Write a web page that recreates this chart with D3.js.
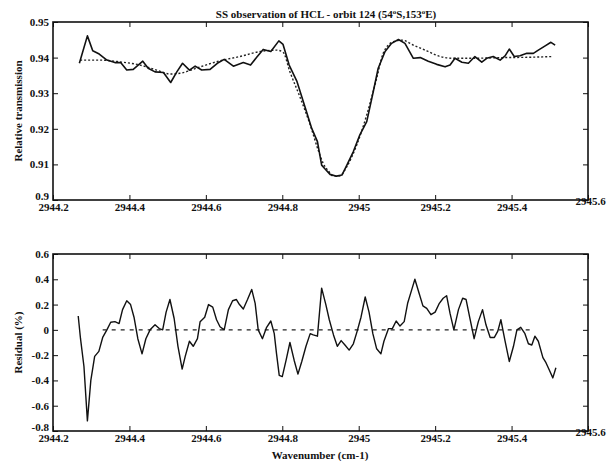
<!DOCTYPE html>
<html>
<head>
<meta charset="utf-8">
<script src="https://cdn.jsdelivr.net/npm/d3@7"></script>
<style>
  body { margin: 0; background: #fff; }
  svg text { font-family: "Liberation Serif", "DejaVu Serif", serif; fill: #111; }
</style>
</head>
<body>
<svg id="chart" width="613" height="461"></svg>
<script>
// wavenumber ticks shared by both panels
var xTicks = [2944.2, 2944.4, 2944.6, 2944.8, 2945, 2945.2, 2945.4, 2945.6];
var xTickLabels = ["2944.2", "2944.4", "2944.6", "2944.8", "2945", "2945.2", "2945.4", "2945.6"];

// top panel: measured transmission (solid)
var measWn = [2944.269, 2944.290, 2944.304, 2944.321, 2944.341, 2944.362, 2944.377, 2944.393, 2944.410, 2944.435,
  2944.449, 2944.467, 2944.489, 2944.508, 2944.524, 2944.539, 2944.557, 2944.572, 2944.589, 2944.611,
  2944.630, 2944.648, 2944.672, 2944.698, 2944.717, 2944.733, 2944.750, 2944.770, 2944.791, 2944.802,
  2944.818, 2944.838, 2944.851, 2944.864, 2944.877, 2944.892, 2944.903, 2944.912, 2944.925, 2944.942,
  2944.956, 2944.969, 2944.986, 2945.003, 2945.021, 2945.038, 2945.051, 2945.069, 2945.086, 2945.104,
  2945.121, 2945.143, 2945.161, 2945.182, 2945.204, 2945.226, 2945.239, 2945.252, 2945.270, 2945.287,
  2945.304, 2945.322, 2945.335, 2945.352, 2945.370, 2945.383, 2945.394, 2945.407, 2945.422, 2945.440,
  2945.457, 2945.470, 2945.488, 2945.503, 2945.514];
var measVal = [0.9384, 0.9461, 0.9419, 0.9410, 0.9393, 0.9386, 0.9386, 0.9365, 0.9367, 0.9390,
  0.9370, 0.9360, 0.9358, 0.9330, 0.9360, 0.9384, 0.9365, 0.9376, 0.9365, 0.9367,
  0.9384, 0.9395, 0.9376, 0.9386, 0.9379, 0.9401, 0.9423, 0.9417, 0.9447, 0.9437,
  0.9379, 0.9334, 0.9290, 0.9246, 0.9201, 0.9164, 0.9098, 0.9087, 0.9072, 0.9067,
  0.9070, 0.9098, 0.9136, 0.9183, 0.9220, 0.9304, 0.9370, 0.9417, 0.9440, 0.9451,
  0.9440, 0.9398, 0.9400, 0.9390, 0.9381, 0.9374, 0.9379, 0.9398, 0.9387, 0.9384,
  0.9403, 0.9387, 0.9398, 0.9403, 0.9393, 0.9405, 0.9424, 0.9403, 0.9405, 0.9412,
  0.9412, 0.9421, 0.9433, 0.9443, 0.9435];

// top panel: fitted transmission (dotted)
var fitWn = [2944.271, 2944.323, 2944.375, 2944.428, 2944.471, 2944.506, 2944.532, 2944.585, 2944.637, 2944.689,
  2944.742, 2944.785, 2944.802, 2944.820, 2944.846, 2944.873, 2944.894, 2944.907, 2944.921, 2944.934,
  2944.951, 2944.969, 2944.995, 2945.021, 2945.047, 2945.064, 2945.091, 2945.113, 2945.143, 2945.178,
  2945.213, 2945.248, 2945.291, 2945.379, 2945.448, 2945.509];
var fitVal = [0.9393, 0.9393, 0.9388, 0.9379, 0.9365, 0.9354, 0.9356, 0.9374, 0.9391, 0.9403,
  0.9417, 0.9421, 0.9415, 0.9360, 0.9290, 0.9211, 0.9140, 0.9103, 0.9081, 0.9067,
  0.9068, 0.9094, 0.9155, 0.9239, 0.9342, 0.9412, 0.9445, 0.9449, 0.9435, 0.9419,
  0.9403, 0.9398, 0.9398, 0.9400, 0.9401, 0.9403];

var topTicks = [0.9, 0.91, 0.92, 0.93, 0.94, 0.95];
var topTickLabels = ["0.9", "0.91", "0.92", "0.93", "0.94", "0.95"];

// bottom panel: residual in %
var resWn = [2944.266, 2944.272, 2944.281, 2944.290, 2944.299, 2944.309, 2944.320, 2944.330, 2944.341, 2944.351,
  2944.362, 2944.373, 2944.382, 2944.393, 2944.403, 2944.412, 2944.422, 2944.433, 2944.443, 2944.454,
  2944.467, 2944.478, 2944.487, 2944.496, 2944.506, 2944.517, 2944.527, 2944.538, 2944.546, 2944.557,
  2944.567, 2944.578, 2944.585, 2944.597, 2944.607, 2944.618, 2944.628, 2944.637, 2944.648, 2944.659,
  2944.670, 2944.680, 2944.688, 2944.698, 2944.709, 2944.720, 2944.729, 2944.737, 2944.748, 2944.759,
  2944.770, 2944.779, 2944.785, 2944.792, 2944.800, 2944.810, 2944.820, 2944.831, 2944.841, 2944.851,
  2944.862, 2944.873, 2944.881, 2944.892, 2944.903, 2944.914, 2944.923, 2944.934, 2944.944, 2944.954,
  2944.964, 2944.975, 2944.986, 2944.996, 2945.006, 2945.017, 2945.027, 2945.037, 2945.047, 2945.058,
  2945.066, 2945.078, 2945.088, 2945.098, 2945.108, 2945.119, 2945.128, 2945.139, 2945.147, 2945.158,
  2945.168, 2945.178, 2945.189, 2945.200, 2945.211, 2945.221, 2945.230, 2945.239, 2945.249, 2945.261,
  2945.272, 2945.281, 2945.291, 2945.302, 2945.313, 2945.324, 2945.333, 2945.344, 2945.355, 2945.364,
  2945.372, 2945.383, 2945.394, 2945.405, 2945.414, 2945.424, 2945.435, 2945.444, 2945.453, 2945.461,
  2945.470, 2945.482, 2945.490, 2945.499, 2945.508, 2945.516];
var resVal = [0.11, -0.07, -0.29, -0.72, -0.40, -0.21, -0.17, -0.06, 0.00, 0.06,
  0.065, 0.05, 0.16, 0.23, 0.20, 0.10, -0.07, -0.19, -0.07, 0.00,
  0.04, 0.01, 0.00, 0.14, 0.24, 0.09, -0.13, -0.31, -0.21, -0.09,
  -0.13, -0.07, 0.065, 0.10, 0.20, 0.18, 0.08, 0.025, 0.00, 0.16,
  0.23, 0.24, 0.20, 0.165, 0.24, 0.32, 0.21, 0.00, -0.07, 0.02,
  0.07, -0.03, -0.19, -0.36, -0.37, -0.24, -0.10, -0.24, -0.35, -0.25,
  -0.13, -0.03, -0.04, -0.05, 0.33, 0.20, 0.08, -0.04, -0.13, -0.085,
  -0.12, -0.16, -0.11, -0.01, 0.10, 0.26, 0.14, -0.03, -0.15, -0.19,
  -0.09, 0.01, 0.01, 0.07, 0.03, 0.065, 0.21, 0.32, 0.40, 0.29,
  0.19, 0.17, 0.12, 0.14, 0.21, 0.25, 0.27, 0.13, 0.00, 0.16,
  0.25, 0.24, 0.09, -0.07, 0.065, 0.16, 0.04, -0.06, -0.06, -0.01,
  0.08, -0.09, -0.25, -0.13, 0.00, 0.02, -0.03, -0.11, -0.12, -0.05,
  -0.09, -0.22, -0.26, -0.32, -0.38, -0.30];
var resZero = [2944.33, 2945.45];

var botTicks = [-0.8, -0.6, -0.4, -0.2, 0, 0.2, 0.4, 0.6];
var botTickLabels = ["-0.8", "-0.6", "-0.4", "-0.2", "0", "0.2", "0.4", "0.6"];

var svg = d3.select("#chart");
var left = 53, right = 588;

var x = d3.scaleLinear().domain([2944.2, 2945.6]).range([left, right]);

function drawFrame(y, yTicks, yLabels, top, bottom, label) {
  var g = svg.append("g");

  // inner ticks on all four sides
  var xAx = g.append("g").attr("transform", "translate(0," + bottom + ")")
    .call(d3.axisBottom(x).tickValues(xTicks).tickSize(-5).tickPadding(3)
      .tickFormat(function(d, i) { return xTickLabels[i]; }));
  g.append("g").attr("transform", "translate(0," + top + ")")
    .call(d3.axisTop(x).tickValues(xTicks).tickSize(-5).tickFormat(""));
  var yAx = g.append("g").attr("transform", "translate(" + left + ",0)")
    .call(d3.axisLeft(y).tickValues(yTicks).tickSize(-5).tickPadding(4)
      .tickFormat(function(d, i) { return yLabels[i]; }));
  g.append("g").attr("transform", "translate(" + right + ",0)")
    .call(d3.axisRight(y).tickValues(yTicks).tickSize(-5).tickFormat(""));

  g.selectAll(".domain").remove();
  g.selectAll(".tick line").attr("stroke", "#111").attr("stroke-width", 1);
  g.selectAll(".tick text").style("font-size", "11px").style("font-weight", "bold")
    .style("font-family", "'Liberation Serif', serif");

  // the corner labels sit a little off their ticks, as in the original
  yAx.selectAll(".tick text").filter(function(d, i) { return i === 0; })
    .attr("y", -4);
  xAx.selectAll(".tick text").filter(function(d, i) { return i === xTicks.length - 1; })
    .attr("x", 2).attr("y", -3);

  g.append("rect")
    .attr("x", left).attr("y", top)
    .attr("width", right - left).attr("height", bottom - top)
    .attr("fill", "none").attr("stroke", "#111").attr("stroke-width", 1.6);

  svg.append("text")
    .attr("transform", "translate(22," + ((top + bottom) / 2) + ") rotate(-90)")
    .attr("text-anchor", "middle")
    .style("font-size", "11px").style("font-weight", "bold")
    .text(label);
}

// ---- top panel ----
var yTop = d3.scaleLinear().domain([0.9, 0.95]).range([200, 22]);
drawFrame(yTop, topTicks, topTickLabels, 22, 200, "Relative transmission");

var lineTop = d3.line()
  .x(function(d) { return x(d[0]); })
  .y(function(d) { return yTop(d[1]); });

svg.append("path")
  .datum(d3.zip(fitWn, fitVal))
  .attr("fill", "none").attr("stroke", "#222").attr("stroke-width", 1.4)
  .attr("stroke-dasharray", "2,2")
  .attr("d", lineTop.curve(d3.curveMonotoneX));

svg.append("path")
  .datum(d3.zip(measWn, measVal))
  .attr("fill", "none").attr("stroke", "#111").attr("stroke-width", 1.6)
  .attr("stroke-linejoin", "round")
  .attr("d", lineTop.curve(d3.curveLinear));

var title = svg.append("text")
  .attr("x", 326).attr("y", 18)
  .attr("text-anchor", "middle")
  .style("font-size", "11px").style("font-weight", "bold");
title.append("tspan").text("SS observation of HCL - orbit 124 (54");
title.append("tspan").attr("dy", -4).style("font-size", "7px").text("o");
title.append("tspan").attr("dy", 4).text("S,153");
title.append("tspan").attr("dy", -4).style("font-size", "7px").text("o");
title.append("tspan").attr("dy", 4).text("E)");

// ---- bottom panel ----
var yBot = d3.scaleLinear().domain([-0.8, 0.6]).range([431, 254]);
drawFrame(yBot, botTicks, botTickLabels, 254, 431, "Residual (%)");

svg.append("line")
  .attr("x1", x(resZero[0])).attr("x2", x(resZero[1]))
  .attr("y1", yBot(0)).attr("y2", yBot(0))
  .attr("stroke", "#222").attr("stroke-width", 1.2)
  .attr("stroke-dasharray", "4,5");

svg.append("path")
  .datum(d3.zip(resWn, resVal))
  .attr("fill", "none").attr("stroke", "#111").attr("stroke-width", 1.4)
  .attr("stroke-linejoin", "round")
  .attr("d", d3.line()
    .x(function(d) { return x(d[0]); })
    .y(function(d) { return yBot(d[1]); }));

svg.append("text")
  .attr("x", 320).attr("y", 459)
  .attr("text-anchor", "middle")
  .style("font-size", "11px").style("font-weight", "bold")
  .text("Wavenumber (cm-1)");
</script>
</body>
</html>
